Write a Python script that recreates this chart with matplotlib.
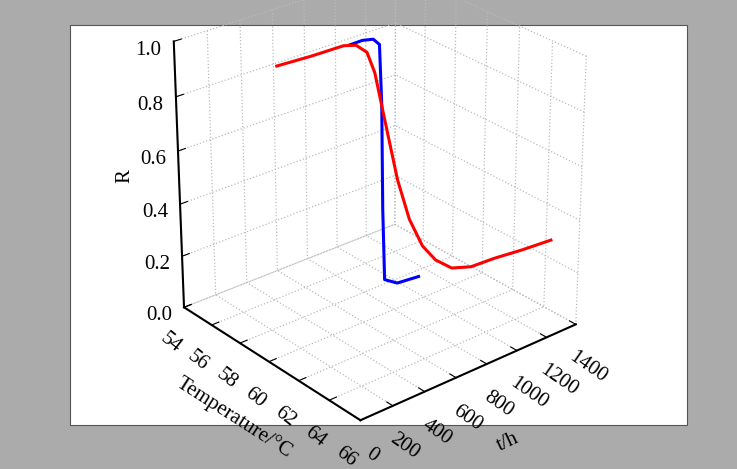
import numpy as np
import matplotlib
matplotlib.use('Agg')
import matplotlib.pyplot as plt
from matplotlib.patches import Rectangle

plt.rcParams['font.family'] = ['Liberation Serif', 'DejaVu Serif']
plt.rcParams['font.size'] = 15

# Data (Temperature in degC, t in h, R)
red_T = [55.8, 56.6, 57.3, 57.6, 57.8, 57.9, 58.0, 58.2, 58.4, 58.7, 59.0, 59.5, 60.3, 61.4, 62.8, 64.3]
red_t = [460, 600, 740, 790, 840, 880, 930, 1000, 1060, 1120, 1180, 1240, 1290, 1330, 1370, 1400]
red_R = [0.87, 0.90, 0.93, 0.93, 0.90, 0.82, 0.65, 0.40, 0.24, 0.13, 0.07, 0.04, 0.06, 0.12, 0.19, 0.27]

blue_T = [57.4, 57.6, 57.8, 57.95, 58.0, 58.02, 58.05, 58.3, 58.8]
blue_t = [770, 830, 880, 905, 915, 920, 930, 990, 1085]
blue_R = [0.93, 0.94, 0.94, 0.92, 0.70, 0.30, 0.02, 0.0, 0.02]

fig = plt.figure(figsize=(7.37, 4.69), dpi=100, facecolor='#ababab')
fig.patches.append(Rectangle((70/737, 1-425/469), 617/737, 400/469, transform=fig.transFigure,
                             facecolor='white', edgecolor='#555555', lw=0.8, zorder=-1))
ax = fig.add_axes([0.12, 0.07, 0.77, 1.04], projection='3d')
ax.set_facecolor('none')
ax.view_init(elev=27, azim=-40)
ax.set_box_aspect((1, 1, 1.05))

ax.plot(blue_T, blue_t, blue_R, color='blue', lw=2.2)
ax.plot(red_T, red_t, red_R, color='red', lw=2.2)

ax.set_xlim(54, 66)
ax.set_ylim(0, 1400)
ax.set_zlim(0, 1.0)
ax.set_xticks(np.arange(54, 67, 2))
ax.set_yticks(np.arange(0, 1401, 200))
ax.set_zticks(np.arange(0, 1.01, 0.2))
ax.set_zticklabels(['%.1f' % v for v in np.arange(0, 1.01, 0.2)])
ax.set_xlabel('Temperature/°C', rotation=-38, labelpad=8)
ax.set_ylabel('t/h', rotation=25, labelpad=14)
ax.set_zlabel('R', rotation=90)
ax.zaxis.set_ticks_position('lower')
ax.zaxis.set_label_position('lower')
ax.tick_params(axis='x', labelrotation=-38)
ax.tick_params(axis='y', labelrotation=-35)

for a in (ax.xaxis, ax.yaxis, ax.zaxis):
    a.set_pane_color((1, 1, 1, 0))
    a.line.set_color('black')
    a.line.set_linewidth(1.5)
    a._axinfo['grid'].update(color='#bbbbbb', linestyle=':', linewidth=0.9)
    a._axinfo['tick'].update(inward_factor=0.0, outward_factor=0.4)

plt.savefig('out.png', dpi=100, facecolor=fig.get_facecolor())
